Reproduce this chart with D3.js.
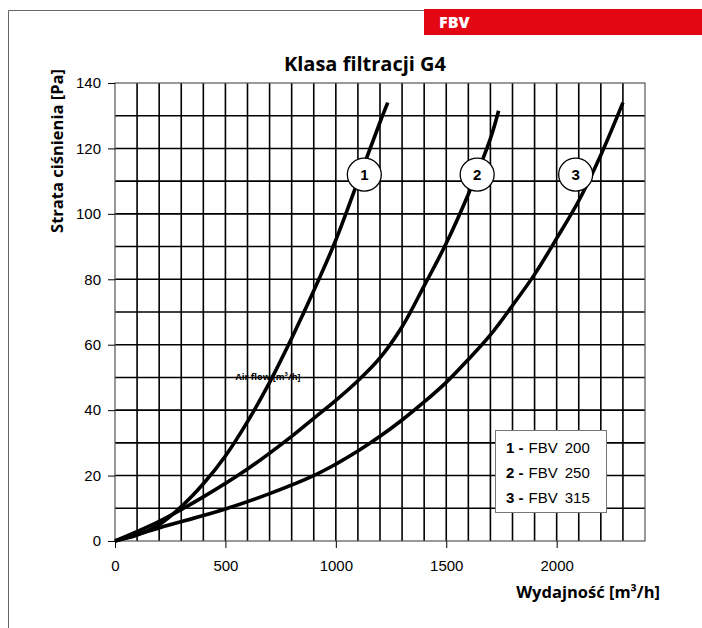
<!DOCTYPE html>
<html>
<head>
<meta charset="utf-8">
<script src="https://cdn.jsdelivr.net/npm/d3@7"></script>
<style>
  body { margin: 0; background: #fff; }
  svg { display: block; }
</style>
</head>
<body>
<div id="chart"></div>
<script>
// values
const flowTicks = [0, 500, 1000, 1500, 2000];
const lossTicks = [0, 20, 40, 60, 80, 100, 120, 140];

const flow200 = [0, 100, 200, 300, 400, 500, 600, 700, 800, 900, 1000, 1100, 1200, 1235];
const loss200 = [0, 1.8, 5, 10.5, 17.5, 26, 36.5, 48.5, 62, 76.5, 92, 110, 128, 134];

const flow250 = [0, 200, 400, 600, 800, 900, 1000, 1100, 1200, 1300, 1400, 1500, 1600, 1700, 1737];
const loss250 = [0, 6, 13.5, 22, 32, 37.5, 43, 49, 56, 65.5, 78, 91, 106, 123, 131.5];

const flow315 = [0, 200, 500, 700, 900, 1000, 1100, 1200, 1300, 1400, 1500, 1600, 1700, 1800, 1900, 2000, 2100, 2200, 2300];
const loss315 = [0, 4, 9.8, 14.5, 20, 23.5, 27.5, 32, 37, 42.5, 48.5, 55.5, 63, 72, 81.5, 92.5, 104, 118, 134];

const seriesNames = ["FBV 200", "FBV 250", "FBV 315"];
const labelFlow = [1129, 1640, 2086];
const labelLoss = [112, 112, 112];

const W = 702, H = 628;
const margin = { left: 115, top: 83, right: 57, bottom: 87 };

const svg = d3.select("#chart").append("svg")
    .attr("width", W)
    .attr("height", H);

// page frame + red tab
svg.append("path")
    .attr("d", "M8.5," + H + "V10.5H424")
    .attr("fill", "none")
    .attr("stroke", "#666")
    .attr("stroke-width", 1);

svg.append("rect")
    .attr("x", 424).attr("y", 9)
    .attr("width", W - 424).attr("height", 26)
    .attr("fill", "#e30613");

svg.append("text")
    .attr("x", 439).attr("y", 28)
    .attr("fill", "#fff")
    .style("font", "800 16px 'Open Sans', sans-serif")
    .text("FBV");

const x = d3.scaleLinear().domain([0, 2400]).range([margin.left, W - margin.right]);
const y = d3.scaleLinear().domain([0, 140]).range([H - margin.bottom, margin.top]);

// grid
const grid = svg.append("g").attr("class", "grid");
grid.selectAll("line.v")
    .data(d3.range(100, 2400, 100))
    .join("line")
    .attr("class", "v")
    .attr("x1", d => x(d)).attr("x2", d => x(d))
    .attr("y1", y(140)).attr("y2", y(0))
    .attr("stroke", "#000")
    .attr("stroke-width", 1.6);

grid.selectAll("line.h")
    .data(d3.range(10, 140, 10))
    .join("line")
    .attr("class", "h")
    .attr("x1", x(0)).attr("x2", x(2400))
    .attr("y1", d => y(d)).attr("y2", d => y(d))
    .attr("stroke", "#000")
    .attr("stroke-width", 1.6);

svg.append("rect")
    .attr("x", x(0)).attr("y", y(140))
    .attr("width", x(2400) - x(0)).attr("height", y(0) - y(140))
    .attr("fill", "none")
    .attr("stroke", "#555")
    .attr("stroke-width", 1.2);

// axes
const tickFont = "15px 'Liberation Sans', Arial, sans-serif";

const yAxis = svg.append("g")
    .attr("transform", `translate(${x(0)},0)`)
    .call(d3.axisLeft(y).tickValues(lossTicks).tickSize(7).tickPadding(7));
yAxis.select(".domain").remove();
yAxis.selectAll("text").style("font", tickFont).attr("fill", "#000");

const xAxis = svg.append("g")
    .attr("transform", `translate(0,${y(0)})`)
    .call(d3.axisBottom(x).tickValues(flowTicks).tickFormat(d3.format("d")).tickSize(7).tickPadding(12));
xAxis.select(".domain").remove();
xAxis.selectAll("text").style("font", tickFont).attr("fill", "#000");

// titles
const boldFont = "'Open Sans', 'Noto Sans', sans-serif";
svg.append("text")
    .attr("x", 365).attr("y", 71)
    .attr("text-anchor", "middle")
    .style("font-family", boldFont).style("font-weight", 700).style("font-size", "20px")
    .text("Klasa filtracji G4");

svg.append("text")
    .attr("transform", "translate(63,151) rotate(-90)")
    .attr("text-anchor", "middle")
    .style("font-family", boldFont).style("font-weight", 700).style("font-size", "16.5px")
    .text("Strata ciśnienia [Pa]");

svg.append("text")
    .attr("x", 660).attr("y", 598)
    .attr("text-anchor", "end")
    .style("font-family", boldFont).style("font-weight", 700).style("font-size", "16.5px")
    .text("Wydajność [m³/h]");

svg.append("text")
    .attr("x", 268).attr("y", 380)
    .attr("text-anchor", "middle")
    .style("font-family", boldFont).style("font-weight", 700).style("font-size", "9px")
    .text("Air flow [m³/h]");

// curves
const series = [
    d3.zip(flow200, loss200),
    d3.zip(flow250, loss250),
    d3.zip(flow315, loss315)
];

const line = d3.line()
    .x(d => x(d[0]))
    .y(d => y(d[1]))
    .curve(d3.curveCatmullRom.alpha(0.5));

svg.append("g").selectAll("path")
    .data(series)
    .join("path")
    .attr("d", line)
    .attr("fill", "none")
    .attr("stroke", "#000")
    .attr("stroke-width", 3.6)
    .attr("stroke-linecap", "butt");

// numbered circle labels
const tags = svg.append("g").selectAll("g")
    .data(seriesNames)
    .join("g")
    .attr("transform", (d, i) => `translate(${x(labelFlow[i])},${y(labelLoss[i])})`);
tags.append("ellipse")
    .attr("rx", 17).attr("ry", 16.5)
    .attr("fill", "#fff")
    .attr("stroke", "#000")
    .attr("stroke-width", 1.3);
tags.append("text")
    .attr("text-anchor", "middle")
    .attr("dy", "0.36em")
    .style("font", "bold 15px 'Liberation Sans', Arial, sans-serif")
    .text((d, i) => i + 1);

// legend
const legend = svg.append("g").attr("transform", "translate(495,430)");
legend.append("rect")
    .attr("x", 0.5).attr("y", 0.5)
    .attr("width", 111).attr("height", 82)
    .attr("fill", "#fff")
    .attr("stroke", "#777")
    .attr("stroke-width", 1);
const rows = legend.selectAll("text")
    .data(seriesNames)
    .join("text")
    .attr("x", 11)
    .attr("y", (d, i) => 22.5 + i * 25)
    .style("font", tickFont);
rows.append("tspan").style("font-weight", "bold").text((d, i) => (i + 1) + " -");
rows.append("tspan").attr("dx", 5).text(d => d.split(" ")[0]);
rows.append("tspan").attr("dx", 7).text(d => d.split(" ")[1]);
</script>
</body>
</html>
